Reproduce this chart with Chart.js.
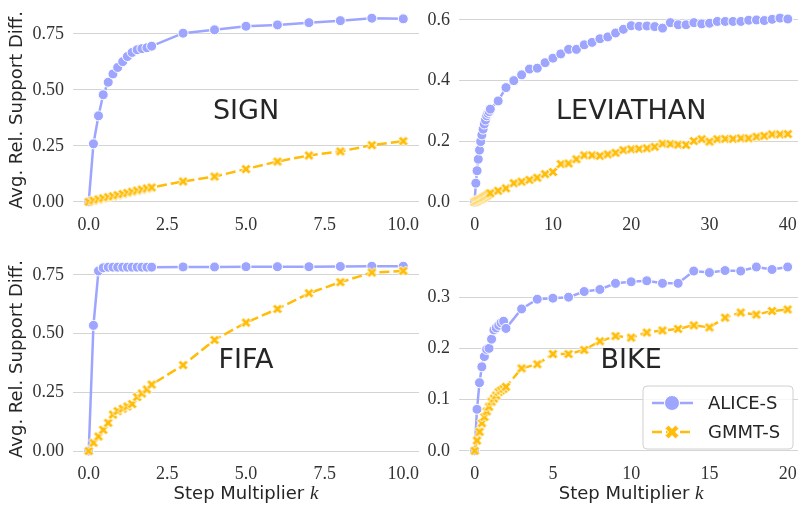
<!DOCTYPE html>
<html>
<head>
<meta charset="utf-8">
<script src="https://cdn.jsdelivr.net/npm/chart.js@4.4.1/dist/chart.umd.min.js"></script>
<style>
  body { margin: 0; background: #fff; }
  #wrap { position: relative; width: 798px; height: 510px; overflow: hidden; background: #fff; }
  #wrap canvas { position: absolute; }
</style>
</head>
<body>
<div id="wrap">
  <canvas id="signChart" width="420" height="245" style="left:0;top:0"></canvas>
  <canvas id="levChart" width="378" height="245" style="left:420px;top:0"></canvas>
  <canvas id="fifaChart" width="420" height="265" style="left:0;top:245px"></canvas>
  <canvas id="bikeChart" width="378" height="265" style="left:420px;top:245px"></canvas>
</div>
<script>
// Step multiplier k (x values)
const K_SHORT = [0, 0.15, 0.31, 0.46, 0.62, 0.77, 0.92, 1.08, 1.23, 1.38, 1.54, 1.69, 1.85, 2,
  3, 4, 5, 6, 7, 8, 9, 10];
const K_LEVIATHAN = [0, 0.15, 0.31, 0.46, 0.62, 0.77, 0.92, 1.08, 1.23, 1.38, 1.54, 1.69, 1.85, 2,
  3, 4, 5, 6, 7, 8, 9, 10, 11, 12, 13, 14, 15, 16, 17, 18, 19, 20, 21, 22, 23, 24, 25, 26, 27, 28,
  29, 30, 31, 32, 33, 34, 35, 36, 37, 38, 39, 40];
const K_BIKE = [0, 0.15, 0.31, 0.46, 0.62, 0.77, 0.92, 1.08, 1.23, 1.38, 1.54, 1.69, 1.85, 2,
  3, 4, 5, 6, 7, 8, 9, 10, 11, 12, 13, 14, 15, 16, 17, 18, 19, 20];

// SIGN
const SIGN_ALICE = [0, 0.259, 0.384, 0.478, 0.534, 0.571, 0.600, 0.626, 0.649, 0.667, 0.679, 0.684, 0.688, 0.695,
  0.753, 0.768, 0.784, 0.790, 0.800, 0.809, 0.820, 0.817];
const SIGN_GMMT = [0, 0.006, 0.011, 0.016, 0.021, 0.025, 0.030, 0.035, 0.040, 0.045, 0.050, 0.055, 0.060, 0.064,
  0.091, 0.113, 0.146, 0.180, 0.207, 0.225, 0.253, 0.271];

// LEVIATHAN
const LEV_ALICE = [0, 0.062, 0.103, 0.141, 0.171, 0.199, 0.221, 0.240, 0.257, 0.270, 0.284, 0.292, 0.298, 0.306,
  0.333, 0.377, 0.400, 0.419, 0.438, 0.441, 0.459, 0.474, 0.488, 0.503, 0.503, 0.518, 0.526, 0.538, 0.544,
  0.557, 0.569, 0.581, 0.579, 0.580, 0.578, 0.573, 0.591, 0.584, 0.584, 0.591, 0.587, 0.589, 0.595, 0.595,
  0.595, 0.595, 0.599, 0.600, 0.598, 0.602, 0.606, 0.603];
const LEV_GMMT = [0, 0.002, 0.004, 0.006, 0.008, 0.010, 0.012, 0.014, 0.016, 0.019, 0.021, 0.024, 0.027, 0.029,
  0.037, 0.045, 0.062, 0.067, 0.073, 0.080, 0.092, 0.099, 0.125, 0.127, 0.141, 0.154, 0.154, 0.152, 0.157,
  0.162, 0.171, 0.174, 0.175, 0.177, 0.182, 0.192, 0.191, 0.189, 0.188, 0.201, 0.207, 0.199, 0.207, 0.208,
  0.208, 0.210, 0.210, 0.215, 0.218, 0.223, 0.223, 0.224];

// FIFA
const FIFA_ALICE = [0, 0.535, 0.767, 0.780, 0.783, 0.783, 0.783, 0.783, 0.783, 0.783, 0.783, 0.783, 0.783, 0.783,
  0.784, 0.784, 0.785, 0.785, 0.785, 0.786, 0.787, 0.787];
const FIFA_GMMT = [0, 0.035, 0.062, 0.090, 0.120, 0.155, 0.170, 0.180, 0.190, 0.200, 0.230, 0.245, 0.262, 0.283,
  0.366, 0.473, 0.547, 0.605, 0.672, 0.719, 0.760, 0.767];

// BIKE
const BIKE_ALICE = [0, 0.081, 0.133, 0.164, 0.184, 0.198, 0.200, 0.218, 0.236, 0.240, 0.245, 0.250, 0.253, 0.239,
  0.277, 0.296, 0.298, 0.300, 0.311, 0.315, 0.327, 0.330, 0.332, 0.327, 0.327, 0.351, 0.348, 0.352, 0.351,
  0.359, 0.354, 0.359];
const BIKE_GMMT = [0, 0.020, 0.037, 0.054, 0.066, 0.077, 0.086, 0.096, 0.102, 0.108, 0.115, 0.118, 0.121, 0.125,
  0.161, 0.169, 0.189, 0.189, 0.197, 0.214, 0.224, 0.221, 0.231, 0.235, 0.238, 0.245, 0.241, 0.260, 0.270,
  0.266, 0.273, 0.276];

// Tick values
const X_TICKS_SHORT = [0, 2.5, 5, 7.5, 10];
const X_TICKS_LEV = [0, 10, 20, 30, 40];
const X_TICKS_BIKE = [0, 5, 10, 15, 20];
const Y_TICKS_QUARTER = [0, 0.25, 0.5, 0.75];
const Y_TICKS_LEV = [0, 0.2, 0.4, 0.6];
const Y_TICKS_BIKE = [0, 0.1, 0.2, 0.3];

// Style
const ALICE_COLOR = '#9da5ff';
const GMMT_COLOR = '#ffbd0a';
const TEXT_COLOR = '#262626';
const GRID_COLOR = '#d4d4d4';
const SANS = '"DejaVu Sans", sans-serif';
const SERIF = '"Liberation Serif", serif';

// Filled "X" marker like matplotlib's 'X'
function makeCross(size, color) {
    const pad = 2;
    const c = document.createElement('canvas');
    c.width = c.height = size + pad * 2;
    const g = c.getContext('2d');
    g.translate(c.width / 2, c.height / 2);
    const s = size / 4;
    const pts = [[-1, -2], [0, -1], [1, -2], [2, -1], [1, 0], [2, 1], [1, 2], [0, 1], [-1, 2], [-2, 1], [-1, 0], [-2, -1]];
    g.beginPath();
    pts.forEach(([px, py], i) => i ? g.lineTo(px * s, py * s) : g.moveTo(px * s, py * s));
    g.closePath();
    g.fillStyle = color;
    g.fill();
    g.strokeStyle = '#fff';
    g.lineWidth = 1;
    g.stroke();
    return c;
}

const CROSS = makeCross(10, GMMT_COLOR);
const CROSS_BIG = makeCross(14, GMMT_COLOR);

// Legend drawn inside the plot (bottom right)
function drawLegend(chart) {
    const { ctx, chartArea } = chart;
    const w = 150, h = 63;
    const x0 = chartArea.right - 5 - w;
    const y0 = chartArea.bottom - 11 - h;
    const r = 4;
    ctx.beginPath();
    ctx.moveTo(x0 + r, y0);
    ctx.arcTo(x0 + w, y0, x0 + w, y0 + h, r);
    ctx.arcTo(x0 + w, y0 + h, x0, y0 + h, r);
    ctx.arcTo(x0, y0 + h, x0, y0, r);
    ctx.arcTo(x0, y0, x0 + w, y0, r);
    ctx.closePath();
    ctx.fillStyle = 'rgba(255,255,255,0.8)';
    ctx.fill();
    ctx.strokeStyle = '#d0d0d0';
    ctx.lineWidth = 1;
    ctx.stroke();

    const rows = [
        { label: 'ALICE-S', y: y0 + 17, dash: [], color: ALICE_COLOR },
        { label: 'GMMT-S', y: y0 + 46, dash: [10, 4], color: GMMT_COLOR }
    ];
    rows.forEach((row, i) => {
        ctx.save();
        ctx.strokeStyle = row.color;
        ctx.lineWidth = 2.5;
        ctx.setLineDash(row.dash);
        ctx.beginPath();
        ctx.moveTo(x0 + 9, row.y);
        ctx.lineTo(x0 + 50, row.y);
        ctx.stroke();
        ctx.restore();
        const mx = x0 + 29;
        if (i === 0) {
            ctx.beginPath();
            ctx.arc(mx, row.y, 7.5, 0, Math.PI * 2);
            ctx.fillStyle = row.color;
            ctx.fill();
            ctx.strokeStyle = '#fff';
            ctx.lineWidth = 1;
            ctx.stroke();
        } else {
            ctx.drawImage(CROSS_BIG, mx - CROSS_BIG.width / 2, row.y - CROSS_BIG.height / 2);
        }
        ctx.fillStyle = TEXT_COLOR;
        ctx.font = '18px ' + SANS;
        ctx.textAlign = 'left';
        ctx.textBaseline = 'middle';
        ctx.fillText(row.label, x0 + 65, row.y + 1);
    });
}

// Panel name, x axis title and legend
function decorPlugin(cfg) {
    return {
        id: 'decor',
        afterDraw(chart) {
            const { ctx, chartArea, scales } = chart;
            const cx = scales.x.getPixelForValue(cfg.centerX);
            const cy = (chartArea.top + chartArea.bottom) / 2;
            ctx.save();
            ctx.fillStyle = TEXT_COLOR;
            ctx.font = '27px ' + SANS;
            ctx.textAlign = 'center';
            ctx.textBaseline = 'middle';
            ctx.fillText(cfg.name, cx, cy + 2);

            if (cfg.xTitle) {
                const part1 = 'Step Multiplier ';
                const part2 = 'k';
                ctx.font = '18px ' + SANS;
                const w1 = ctx.measureText(part1).width;
                ctx.font = 'italic 19px ' + SERIF;
                const w2 = ctx.measureText(part2).width;
                const x = cx - (w1 + w2) / 2;
                const y = chartArea.bottom + 34;
                ctx.textAlign = 'left';
                ctx.font = '18px ' + SANS;
                ctx.fillText(part1, x, y);
                ctx.font = 'italic 19px ' + SERIF;
                ctx.fillText(part2, x + w1, y);
            }
            if (cfg.legend) drawLegend(chart);
            ctx.restore();
        }
    };
}

function makeChart(id, cfg) {
    const ctx = document.getElementById(id);
    return new Chart(ctx, {
        type: 'line',
        data: {
            datasets: [
                {
                    label: 'ALICE-S',
                    data: cfg.k.map((x, i) => ({ x, y: cfg.alice[i] })),
                    borderColor: ALICE_COLOR,
                    backgroundColor: ALICE_COLOR,
                    borderWidth: 2.5,
                    pointStyle: 'circle',
                    pointRadius: 5,
                    pointBackgroundColor: ALICE_COLOR,
                    pointBorderColor: '#fff',
                    pointBorderWidth: 1,
                    tension: 0,
                    order: 2
                },
                {
                    label: 'GMMT-S',
                    data: cfg.k.map((x, i) => ({ x, y: cfg.gmmt[i] })),
                    borderColor: GMMT_COLOR,
                    backgroundColor: GMMT_COLOR,
                    borderWidth: 2.5,
                    borderDash: [10, 4],
                    pointStyle: CROSS,
                    pointRadius: 5,
                    tension: 0,
                    order: 1
                }
            ]
        },
        options: {
            responsive: false,
            animation: false,
            events: [],
            layout: {
                autoPadding: false,
                padding: { top: cfg.padTop, right: cfg.padRight, left: 0, bottom: 0 }
            },
            plugins: {
                legend: { display: false },
                tooltip: { enabled: false }
            },
            scales: {
                x: {
                    type: 'linear',
                    min: cfg.xMin,
                    max: cfg.xMax,
                    afterBuildTicks: (s) => {
                        s.min = cfg.xMin;
                        s.max = cfg.xMax;
                        s.ticks = cfg.xTicks.map(v => ({ value: v }));
                    },
                    afterFit: (s) => {
                        s.height = cfg.xHeight;
                        s.paddingLeft = 0;
                        s.paddingRight = 0;
                    },
                    grid: { display: false, drawTicks: false },
                    border: { display: false },
                    ticks: {
                        autoSkip: false,
                        maxRotation: 0,
                        padding: 3,
                        color: '#333',
                        font: { family: SERIF, size: 18 },
                        callback: (v) => v.toFixed(cfg.xDigits)
                    }
                },
                y: {
                    type: 'linear',
                    min: cfg.yMin,
                    max: cfg.yMax,
                    afterBuildTicks: (s) => {
                        s.min = cfg.yMin;
                        s.max = cfg.yMax;
                        s.ticks = cfg.yTicks.map(v => ({ value: v }));
                    },
                    afterFit: (s) => {
                        s.width = cfg.yWidth;
                        s.paddingTop = 0;
                        s.paddingBottom = 0;
                    },
                    grid: { color: GRID_COLOR, lineWidth: 1, drawTicks: false },
                    border: { display: false },
                    ticks: {
                        padding: 9,
                        color: '#333',
                        font: { family: SERIF, size: 18 },
                        callback: (v) => v.toFixed(cfg.yDigits)
                    },
                    title: {
                        display: !!cfg.yTitle,
                        text: 'Avg. Rel. Support Diff.',
                        color: TEXT_COLOR,
                        font: { family: SANS, size: 18 },
                        padding: { top: 7, bottom: 0 }
                    }
                }
            }
        },
        plugins: [decorPlugin(cfg)]
    });
}

makeChart('signChart', {
    k: K_SHORT, alice: SIGN_ALICE, gmmt: SIGN_GMMT, name: 'SIGN', centerX: 5,
    xMin: -0.5, xMax: 10.5, xTicks: X_TICKS_SHORT, xDigits: 1,
    yMin: -0.041, yMax: 0.861, yTicks: Y_TICKS_QUARTER, yDigits: 2,
    yWidth: 73, xHeight: 34, padTop: 9, padRight: 1, yTitle: true
});

makeChart('levChart', {
    k: K_LEVIATHAN, alice: LEV_ALICE, gmmt: LEV_GMMT, name: 'LEVIATHAN', centerX: 20,
    xMin: -2, xMax: 41.3, xTicks: X_TICKS_LEV, xDigits: 0,
    yMin: -0.0297, yMax: 0.636, yTicks: Y_TICKS_LEV, yDigits: 1,
    yWidth: 39, xHeight: 34, padTop: 9, padRight: 0
});

makeChart('fifaChart', {
    k: K_SHORT, alice: FIFA_ALICE, gmmt: FIFA_GMMT, name: 'FIFA', centerX: 5,
    xMin: -0.5, xMax: 10.5, xTicks: X_TICKS_SHORT, xDigits: 1,
    yMin: -0.0383, yMax: 0.822, yTicks: Y_TICKS_QUARTER, yDigits: 2,
    yWidth: 73, xHeight: 50, padTop: 13, padRight: 1, yTitle: true, xTitle: true
});

makeChart('bikeChart', {
    k: K_BIKE, alice: BIKE_ALICE, gmmt: BIKE_GMMT, name: 'BIKE', centerX: 10,
    xMin: -1, xMax: 20.66, xTicks: X_TICKS_BIKE, xDigits: 0,
    yMin: -0.018, yMax: 0.3765, yTicks: Y_TICKS_BIKE, yDigits: 1,
    yWidth: 39, xHeight: 50, padTop: 13, padRight: 0, xTitle: true, legend: true
});
</script>
</body>
</html>
